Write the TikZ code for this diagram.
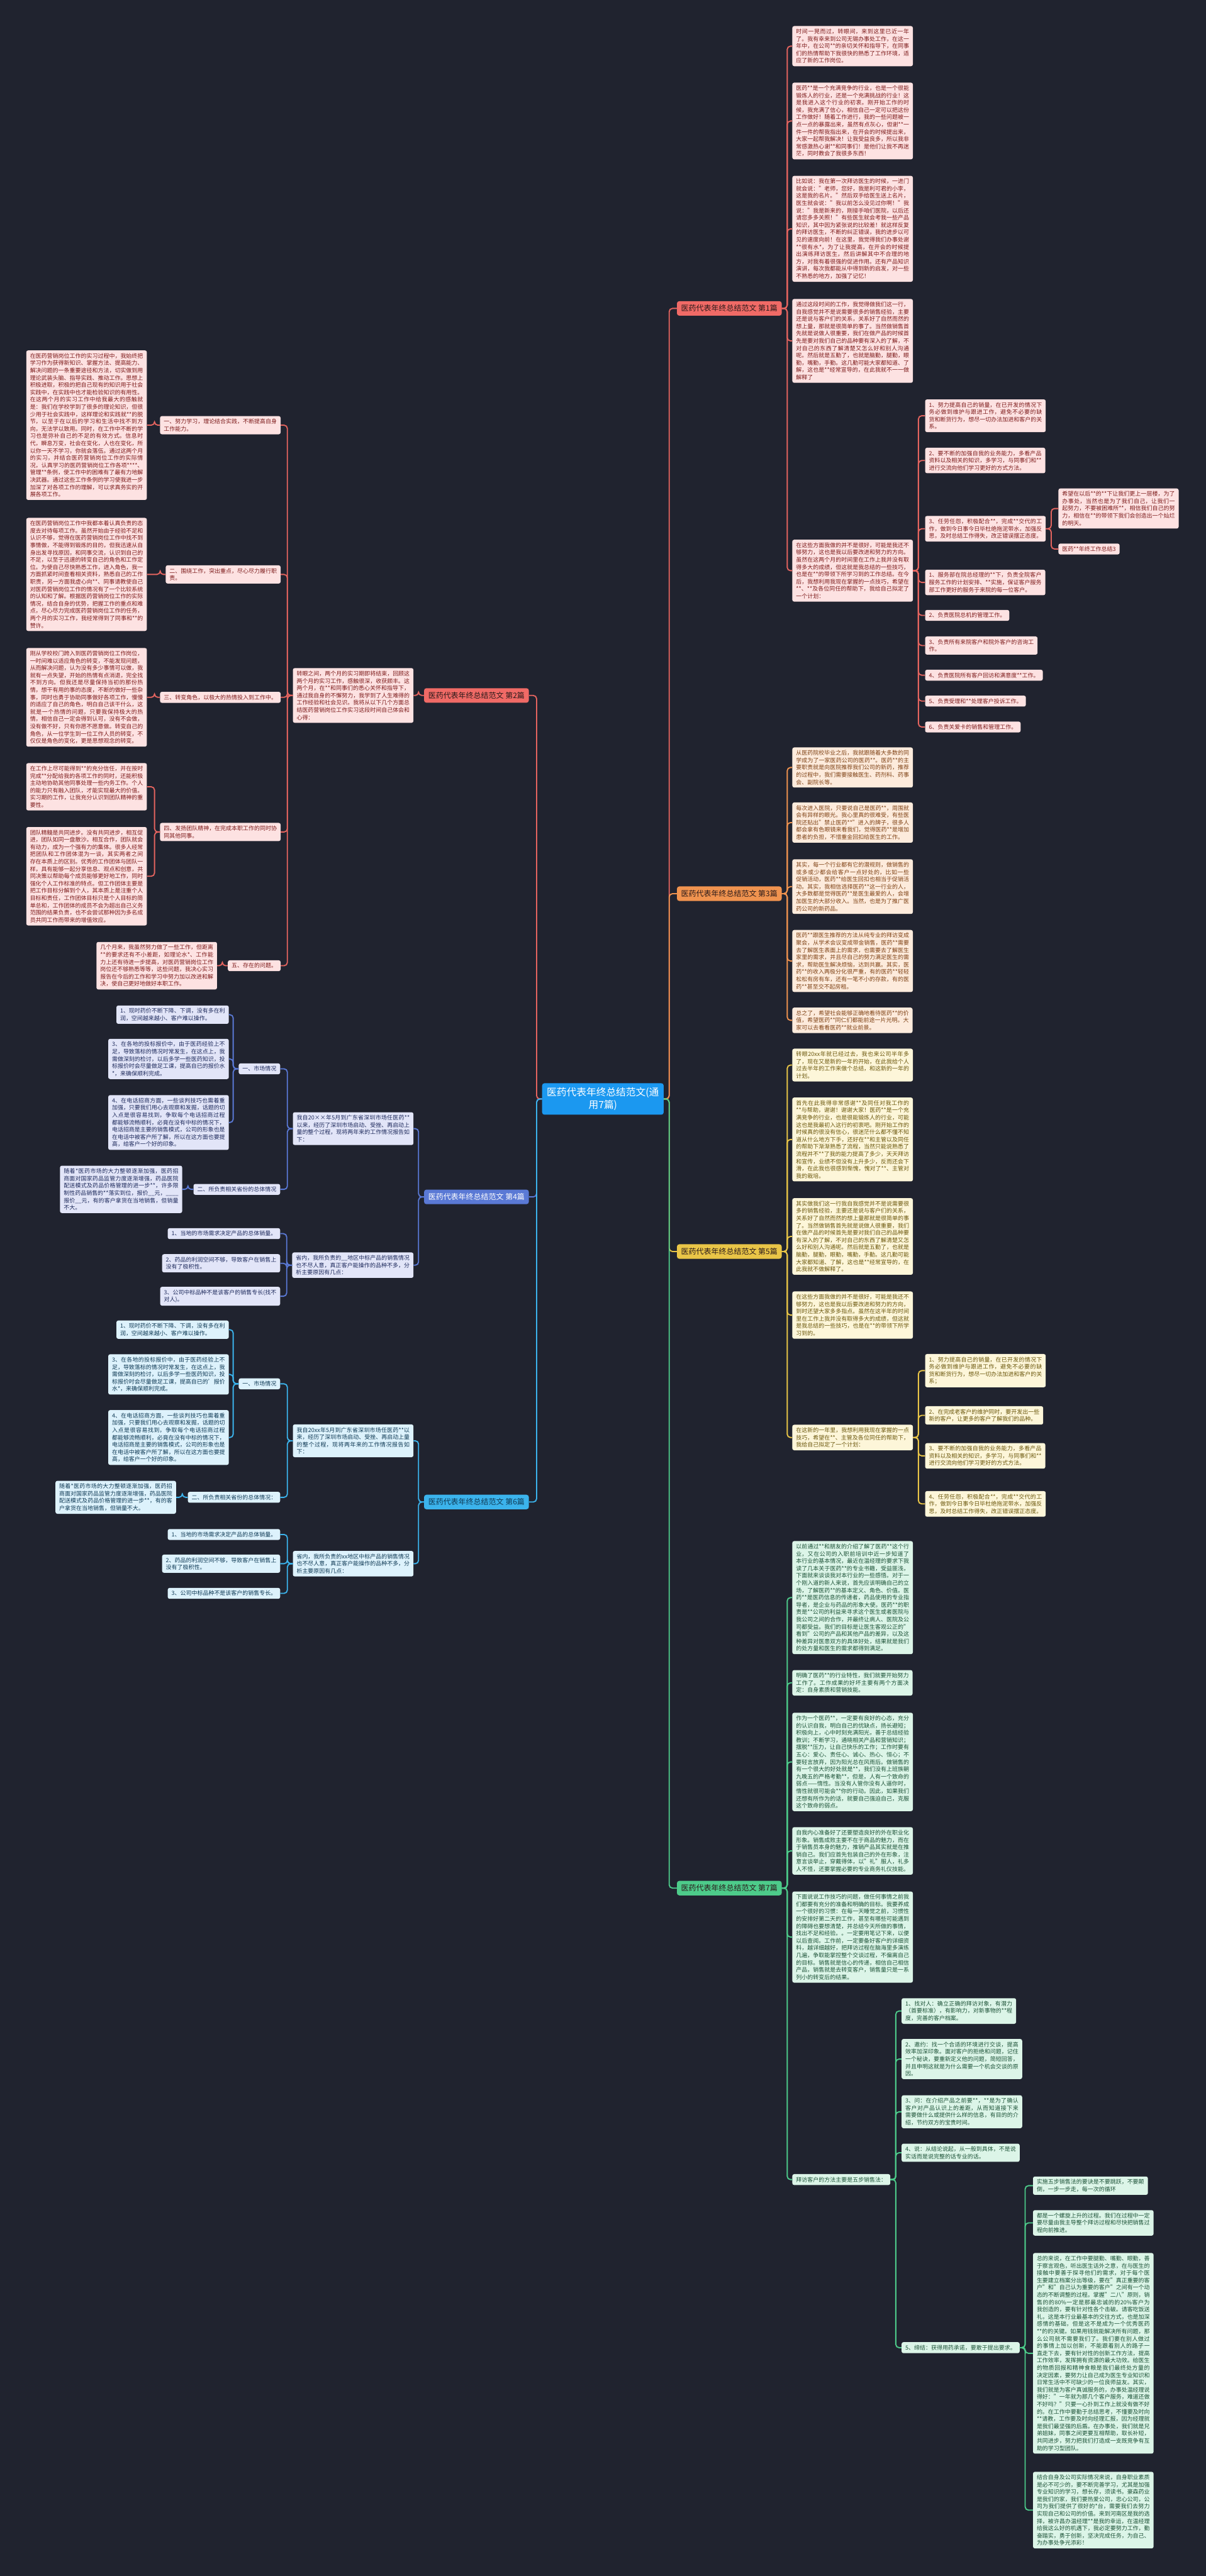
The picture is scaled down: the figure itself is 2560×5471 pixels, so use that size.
\documentclass[tikz,border=0pt]{standalone}
\usepackage{fontspec}
\setmainfont{Noto Sans CJK SC}
\usepackage{varwidth}
\XeTeXlinebreaklocale "zh"
\XeTeXlinebreakskip = 0pt plus 1pt
\setlength{\parindent}{0pt}

\definecolor{bgc}{HTML}{20232F}
\definecolor{ctrc}{HTML}{1B98F0}
\definecolor{rl}{HTML}{E4645F}
\definecolor{rfill}{HTML}{FDE2E2}
\definecolor{rtext}{HTML}{7E1C1C}
\definecolor{rlab}{HTML}{F06A66}
\definecolor{ol}{HTML}{F0934F}
\definecolor{ofill}{HTML}{FDEBDC}
\definecolor{otext}{HTML}{7F4215}
\definecolor{yl}{HTML}{E9C547}
\definecolor{yfill}{HTML}{FDF6D9}
\definecolor{ytext}{HTML}{6B570C}
\definecolor{gl}{HTML}{4DCB8A}
\definecolor{gfill}{HTML}{DCF5E8}
\definecolor{gtext}{HTML}{1C5237}
\definecolor{bl}{HTML}{5A79D5}
\definecolor{bfill}{HTML}{E2E5F8}
\definecolor{btext}{HTML}{1E2A5C}
\definecolor{cl}{HTML}{3BB3EC}
\definecolor{cfill}{HTML}{DDF2FC}
\definecolor{ctext}{HTML}{0F3A55}
\definecolor{dark}{HTML}{2A1A1A}

\begin{document}
\begin{tikzpicture}[x=1pt,y=-1pt,
  box/.style={anchor=west,rounded corners=4pt,inner xsep=8pt,inner ysep=6pt,
    font=\fontsize{12}{15.5}\selectfont,
    execute at begin node={\begin{varwidth}{244pt}},
    execute at end node={\end{varwidth}}},
  lft/.style={anchor=east},
  lab/.style={anchor=west,rounded corners=5pt,inner xsep=9pt,inner ysep=8pt,font=\fontsize{16}{19}\selectfont},
  rbox/.style={box,fill=rfill,text=rtext},
  obox/.style={box,fill=ofill,text=otext},
  ybox/.style={box,fill=yfill,text=ytext},
  gbox/.style={box,fill=gfill,text=gtext},
  bbox/.style={box,lft,fill=bfill,text=btext},
  cbox/.style={box,lft,fill=cfill,text=ctext},
  rline/.style={draw=rl,line width=2.5pt},
  oline/.style={draw=ol,line width=2.5pt},
  yline/.style={draw=yl,line width=2.5pt},
  gline/.style={draw=gl,line width=2.5pt},
  bline/.style={draw=bl,line width=2.5pt},
  cline/.style={draw=cl,line width=2.5pt},
  rt/.style={rounded corners=7pt,to path={-- ++(11.5pt,0) |- (\tikztotarget)}},
  lt/.style={rounded corners=7pt,to path={-- ++(-11.5pt,0) |- (\tikztotarget)}}]

\path[use as bounding box,fill=bgc] (0,0) rectangle (2560,5471);

% centre
\node[fill=ctrc,text=white,rounded corners=5pt,inner xsep=10pt,inner ysep=9pt,align=center,
  font=\fontsize{21}{27}\selectfont] (c) at (1280,2334) {医药代表年终总结范文(通\\用7篇)};

% ---- 第1篇
\node[lab,fill=rlab,text=dark] (b1) at (1437,655) {医药代表年终总结范文 第1篇};
\node[rbox] (b1a) at (1682,98) {时间一晃而过，转眼间，来到这里已近一年了。我有幸来到公司无锡办事处工作，在这一年中，在公司**的亲切关怀和指导下，在同事们的热情帮助下我很快的熟悉了工作环境，适应了新的工作岗位。};
\node[rbox] (b1b) at (1682,257) {医药**是一个充满竞争的行业，也是一个很能锻炼人的行业，还是一个充满挑战的行业！这是我进入这个行业的初衷。刚开始工作的时候，我充满了信心，相信自己一定可以把这份工作做好！随着工作进行，我的一些问题被一点一点的暴露出来，虽然有点灰心，但谢**一件一件的帮我指出来，在开会的时候提出来，大家一起帮我解决！让我受益良多，所以我非常感激热心谢**和同事们！是他们让我不再迷茫，同时教会了我很多东西！};
\node[rbox] (b1c) at (1682,486) {比如说：我在第一次拜访医生的时候，一进门就会说："老师，您好，我是利可君的小李，这是我的名片。"然后双手给医生送上名片，医生就会说："我以前怎么没见过你啊！"我说："我是新来的，刚接手咱们医院，以后还请您多多关照！"有些医生就会考我一些产品知识，其中因为紧张说的比较差！就这样反复的拜访医生，不断的纠正错误，我的进步以可见的速度向前！在这里，我觉得我们办事处谢**很有水*，为了让我提高，在开会的时候提出演练拜访医生，然后讲解其中不合理的地方，对我有着很强的促进作用。还有产品知识演讲，每次我都能从中得到新的启发，对一些不熟悉的地方，加强了记忆！};
\node[rbox] (b1d) at (1682,724) {通过这段时间的工作，我觉得做我们这一行，自我感觉并不是说需要很多的销售经验，主要还是说与客户们的关系，关系好了自然而然的想上量，那就是很简单的事了。当然做销售首先就是说做人很重要，我们在做产品的时候首先是要对我们自己的品种要有深入的了解，不对自己的东西了解清楚又怎么好和别人沟通呢。然后就是五勤了，也就是脑勤，腿勤，眼勤，嘴勤，手勤。这几勤可能大家都知道、了解，这也是**经常宣导的，在此我就不一一做解释了};
\node[rbox] (b1e) at (1682,1212) {在这些方面我做的并不是很好，可能是我还不够努力，这也是我以后要改进和努力的方向。虽然在这两个月的时间里在工作上我并没有取得多大的成绩，但这就是我总结的一些技巧，也是在**的带领下所学习到的工作总结。在今后，我想利用我现在掌握的一点技巧，希望在**、**及各位同任的帮助下，我给自己拟定了一个计划：};
\node[rbox] (b1e1) at (1964,883) {1、努力提高自己的销量，在已开发的情况下务必做到维护与跟进工作，避免不必要的缺货和断货行为，想尽一切办法加进和客户的关系。};
\node[rbox] (b1e2) at (1964,978) {2、要不断的加强自我的业务能力，多看产品资料以及相关的知识，多学习，与同事们和**进行交流向他们学习更好的方式方法。};
\node[rbox] (b1e3) at (1964,1123) {3、任劳任怨，积极配合**，完成**交代的工作，做到今日事今日毕杜绝拖泥带水，加强反思，及时总结工作得失，改正错误摆正态度。};
\node[rbox] (b1e4) at (1964,1237) {1、服务部在院总经理的**下，负责全院客户服务工作的计划安排、**实施，保证客户服务部工作更好的服务于来院的每一位客户。};
\node[rbox] (b1e5) at (1964,1307) {2、负责医院总机的管理工作。};
\node[rbox] (b1e6) at (1964,1371) {3、负责所有来院客户和院外客户的咨询工作。};
\node[rbox] (b1e7) at (1964,1434) {4、负责医院所有客户回访和满意度**工作。};
\node[rbox] (b1e8) at (1964,1489) {5、负责受理和**处理客户投诉工作。};
\node[rbox] (b1e9) at (1964,1544) {6、负责关爱卡的销售和管理工作。};
\node[rbox] (b1e3a) at (2247,1080) {希望在以后**的**下让我们更上一层楼，为了办事处，当然也是为了我们自己，让我们一起努力，不要被困难所**，相信我们自己的努力，相信在**的带领下我们会创造出一个灿烂的明天。};
\node[rbox] (b1e3b) at (2247,1166) {医药**年终工作总结3};

% ---- 第3篇
\node[lab,fill=ol,text=dark] (b3) at (1437,1898) {医药代表年终总结范文 第3篇};
\node[obox] (b3a) at (1682,1630) {从医药院校毕业之后，我就跟随着大多数的同学成为了一家医药公司的医药**。医药**的主要职责就是向医院推荐我们公司的新药，推荐的过程中，我们需要接触医生、药剂科、药事会、副院长等。};
\node[obox] (b3b) at (1682,1747) {每次进入医院，只要说自己是医药**，周围就会有异样的眼光。我心里真的很难受，有些医院还贴出"禁止医药**"进入的牌子，很多人都会拿有色眼镜来看我们，觉得医药**是增加患者的负担，不惜重金回扣给医生的工作。};
\node[obox] (b3c) at (1682,1883) {其实，每一个行业都有它的潜规则，做销售的或多或少都会给客户一点好处的，比如一些促销活动，医药**给医生回扣也相当于促销活动。其实，我相信选择医药**这一行业的人，大多数都是觉得医药**是医生最爱的人，会增加医生的大部分收入。当然，也是为了推广医药公司的新药品。};
\node[obox] (b3d) at (1682,2041) {医药**跟医生推荐的方法从纯专业的拜访变成聚会，从学术会议变成带金销售，医药**需要去了解医生表面上的需求，也需要去了解医生家里的需求，并且尽自己的努力满足医生的需求，帮助医生解决烦恼，达到共赢。其实，医药**的收入两极分化很严重，有的医药**轻轻松松有房有车，还有一笔不小的存款，有的医药**甚至交不起房租。};
\node[obox] (b3e) at (1682,2167) {总之了，希望社会能够正确地看待医药**的价值，希望医药**同仁们都能前途一片光明。大家可以去看看医药**就业前景。};

% ---- 第5篇
\node[lab,fill=yl,text=dark] (b5) at (1437,2658) {医药代表年终总结范文 第5篇};
\node[ybox] (b5a) at (1682,2262) {转眼20xx年就已经过去，我也来公司半年多了，现在又是新的一年的开始，在此我给个人过去半年的工作来做个总结，和这新的一年的计划。};
\node[ybox] (b5b) at (1682,2420) {首先在此我得非常感谢**及同任对我工作的**与帮助，谢谢！谢谢大家！医药**是一个充满竞争的行业，也是很能锻炼人的行业，可能这也是我最初入这行的初衷吧。刚开始工作的时候真的很没有信心，很迷茫什么都不懂不知道从什么地方下手，还好在**和主管以及同任的帮助下渐渐熟悉了流程，当然只能说熟悉了流程并不**了我的能力提高了多少，天天拜访和宣传，业绩不但没有上升多少，反而还会下滑，在此我也很感到惭愧，愧对了**、主管对我的栽培。};
\node[ybox] (b5c) at (1682,2626) {其实做我们这一行我自我感觉并不是说需要很多的销售经验，主要还是说与客户们的关系，关系好了自然而然的想上量那就是很简单的事了。当然做销售首先就是说做人很重要，我们在做产品的时候首先是要对我们自己的品种要有深入的了解，不对自己的东西了解清楚又怎么好和别人沟通呢。然后就是五勤了，也就是脑勤，腿勤，眼勤，嘴勤，手勤。这几勤可能大家都知道、了解，这也是**经常宣导的，在此我就不做解释了。};
\node[ybox] (b5d) at (1682,2793) {在这些方面我做的并不是很好，可能是我还不够努力，这也是我以后要改进和努力的方向，到时还望大家多多指点。虽然在这半年的时间里在工作上我并没有取得多大的成绩，但这就是我总结的一些技巧，也是在**的带领下所学习到的。};
\node[ybox] (b5e) at (1682,3053) {在这新的一年里，我想利用我现在掌握的一点技巧，希望在**、主管及各位同任的帮助下，我给自己拟定了一个计划：};
\node[ybox] (b5e1) at (1964,2911) {1、努力提高自己的销量，在已开发的情况下务必做到维护与跟进工作，避免不必要的缺货和断货行为，想尽一切办法加进和客户的关系；};
\node[ybox] (b5e2) at (1964,3006) {2、在完成老客户的维护同时，要开发出一些新的客户，让更多的客户了解我们的品种。};
\node[ybox] (b5e3) at (1964,3092) {3、要不断的加强自我的业务能力，多看产品资料以及相关的知识，多学习，与同事们和**进行交流向他们学习更好的方式方法。};
\node[ybox] (b5e4) at (1964,3194) {4、任劳任怨，积极配合**，完成**交代的工作，做到今日事今日毕杜绝拖泥带水，加强反思，及时总结工作得失，改正错误摆正态度。};

% ---- 第7篇
\node[lab,fill=gl,text=dark] (b7) at (1437,4010) {医药代表年终总结范文 第7篇};
\node[gbox] (b7a) at (1682,3393) {以前通过**和朋友的介绍了解了医药**这个行业，又在公司的入职前培训中近一步知道了本行业的基本情况，最近在温经理的要求下我读了几本关于医药**的专业书籍，受益匪浅，下面就来谈谈我对本行业的一些感悟。对于一个刚入道的新人来说，首先应该明确自己的立场，了解医药**的基本定义、角色、价值。医药**是医药信息的传递者，药品使用的专业指导者，是企业与药品的形象大使。医药**的职责是**公司的利益来寻求这个医生或者医院与我公司之间的合作，并最终让病人、医院及公司都受益。我们的目标是让医生客观公正的"看到"公司的产品和其他产品的差异，以及这种差异对医患双方的具体好处，结果就是我们的处方量和医生的需求都得到满足。};
\node[gbox] (b7b) at (1682,3574) {明确了医药**的行业特性，我们就要开始努力工作了。工作成果的好坏主要有两个方面决定：自身素质和营销技能。};
\node[gbox] (b7c) at (1682,3742) {作为一个医药**，一定要有良好的心态，充分的认识自我，明白自己的优缺点，扬长避短；积极向上，心中时刻充满阳光，善于总结经验教训；不断学习，通晓相关产品和营销知识；摆脱**压力，让自己快乐的工作；工作时要有五心：爱心、责任心、诚心、热心、恒心；不要轻言放弃，因为阳光总在风雨后。做销售的有一个很大的好处就是**，我们没有上班族朝九晚五的严格考勤**，但是，人有一个致命的弱点——惰性。当没有人管你没有人逼你时，惰性就很可能会**你的行动。因此，如果我们还想有所作为的话，就要自己强迫自己，克服这个致命的弱点。};
\node[gbox] (b7d) at (1682,3931) {自我内心准备好了还要塑造良好的外在职业化形象。销售成败主要不在于商品的魅力，而在于销售员本身的魅力，推销产品其实就是在推销自己。我们应首先包装自己的外在形象，注意言谈举止，穿戴得体，以"礼"服人，礼多人不怪，还要掌握必要的专业商务礼仪技能。};
\node[gbox] (b7e) at (1682,4114) {下面说说工作技巧的问题，做任何事情之前我们都要有充分的准备和明确的目标。我要养成一个很好的习惯：在每一天睡觉之前，习惯性的安排好第二天的工作，甚至有哪些可能遇到的障碍也要想清楚，并总结今天所做的事情，找出不足和经验。。一定要用笔记下来，以便以后查阅。工作前，一定要备好客户的详细资料，越详细越好，把拜访过程在脑海里多演练几遍，争取能掌控整个交谈过程，不偏离自己的目标。销售就是信心的传递，相信自己相信产品，销售就是去转变客户，销售量只是一系列小的转变后的结果。};
\node[gbox] (b7f) at (1682,4629) {拜访客户的方法主要是五步销售法：};
\node[gbox] (b7f1) at (1914,4271) {1、找对人：确立正确的拜访对象，有潜力（首要标准），有影响力，对新事物的**程度，完善的客户档案。};
\node[gbox] (b7f2) at (1914,4373) {2、邀约：找一个合适的环境进行交谈，提高效率加深印象。面对客户的拒绝和问题，记住一个秘诀，要重新定义他的问题，简短回答，并且申明这就是为什么需要一个机会交谈的原因。};
\node[gbox] (b7f3) at (1914,4485) {3、问：在介绍产品之前要**，**是为了确认客户对产品认识上的差距，从而知道接下来需要做什么或提供什么样的信息，有目的的介绍，节约双方的宝贵时间。};
\node[gbox] (b7f4) at (1914,4572) {4、说：从结论说起，从一般到具体，不是说实话而是说完整的话专业的话。};
\node[gbox] (b7f5) at (1914,4986) {5、缔结：获得用药承诺，要敢于提出要求。};
\node[gbox] (b7f5a) at (2193,4642) {实施五步销售法的要诀是不要跳跃，不要颠倒，一步一步走，每一次的循环};
\node[gbox] (b7f5b) at (2193,4721) {都是一个螺旋上升的过程。我们在过程中一定要尽量由我主导整个拜访过程和尽快把销售过程向前推进。};
\node[gbox] (b7f5c) at (2193,4998) {总的来说，在工作中要腿勤、嘴勤、眼勤，善于察言观色，听出医生话外之意，在与医生的接触中要善于探寻他们的需求，对于每个医生要建立档案分出等级，要在"真正重要的客户"和"自己认为重要的客户"之间有一个动态的不断调整的过程。掌握"二八"原则，销售的的80\%一定是那最忠诚的的20\%客户为我创造的，要有针对性各个击破。请客吃饭送礼，这是本行业最基本的交往方式，也是加深感情的基础，但是这不是成为一个优秀医药**的的关键。如果用钱就能解决所有问题，那么公司就不需要我们了。我们要在别人做过的事情上加以创新，不能跟着别人的路子一直走下去，要有针对性的创新工作方法，提高工作效率，发挥拥有资源的最大功效。给医生的物质回报和精神食粮是我们最终处方量的决定因素，要努力让自己成为医生专业知识和日常生活中不可缺少的一位良师益友。其实，我们就是为客户真诚服务的，办事处温经理说得好："一年就为那几个客户服务，难道还做不好吗？"只要一心扑到工作上就没有做不好的。在工作中要勤于总结思考，不懂要及时向**请教，工作要及时向经理汇报，因为经理就是我们最坚强的后盾。在办事处，我们就是兄弟姐妹，同事之间更要互相帮助，取长补短，共同进步，努力把我们打造成一支既竞争有互助的学习型团队。};
\node[gbox] (b7f5d) at (2193,5331) {结合自身及公司实际情况来说，自身职业素质是必不可少的，要不断完善学习，尤其是加强专业知识的学习，想长存，须读书。豪森药业是我们的家，我们要热爱公司，忠心公司，公司为我们提供了很好的*台，需要我们去努力实现自己和公司的价值。来到河南区是我的选择，被许昌办温经理**是我的幸运，在温经理给我这么好的机遇下，我必定要努力工作，勤奋踏实，勇于创新，坚决完成任务，为自己、为办事处争光添彩！};

% ---- 第2篇
\node[lab,lft,fill=rlab,text=dark] (b2) at (1123,1477) {医药代表年终总结范文 第2篇};
\node[rbox,lft] (b2m) at (878,1477) {转眼之间，两个月的实习期即将结束，回顾这两个月的实习工作，感触很深，收获颇丰。这两个月，在**和同事们的悉心关怀和指导下，通过我自身的不懈努力，我学到了人生难得的工作经验和社会见识。我将从以下几个方面总结医药营销岗位工作实习这段时间自己体会和心得：};
\node[rbox,lft] (b2p1) at (596,903) {一、努力学习，理论结合实践，不断提高自身工作能力。};
\node[rbox,lft] (b2p2) at (596,1220) {二、围绕工作，突出重点，尽心尽力履行职责。};
\node[rbox,lft] (b2p3) at (596,1481) {三、转变角色，以极大的热情投入到工作中。};
\node[rbox,lft] (b2p4) at (596,1767) {四、发扬团队精神，在完成本职工作的同时协同其他同事。};
\node[rbox,lft] (b2p5) at (596,2051) {五、存在的问题。};
\node[rbox,lft] (b2t1) at (312,903) {在医药营销岗位工作的实习过程中，我始终把学习作为获得新知识、掌握方法、提高能力、解决问题的一条重要途径和方法，切实做到用理论武装头脑、指导实践、推动工作。思想上积极进取，积极的把自己现有的知识用于社会实践中，在实践中也才能检验知识的有用性。在这两个月的实习工作中给我最大的感触就是：我们在学校学到了很多的理论知识，但很少用于社会实践中，这样理论和实践就**的脱节，以至于在以后的学习和生活中找不到方向，无法学以致用。同时，在工作中不断的学习也是弥补自己的不足的有效方式。信息时代，瞬息万变，社会在变化，人也在变化，所以你一天不学习，你就会落伍。通过这两个月的实习，并结合医药营销岗位工作的实际情况，认真学习的医药营销岗位工作各项****、管理**条例，使工作中的困难有了最有力地解决武器。通过这些工作条例的学习使我进一步加深了对各项工作的理解，可以求真务实的开展各项工作。};
\node[rbox,lft] (b2t2) at (312,1220) {在医药营销岗位工作中我都本着认真负责的态度去对待每项工作。虽然开始由于经验不足和认识不够，觉得在医药营销岗位工作中找不到事情做，不能得到锻炼的目的，但我迅速从自身出发寻找原因，和同事交流，认识到自己的不足，以至于迅速的转变自己的角色和工作定位。为使自己尽快熟悉工作，进入角色，我一方面抓紧时间查看相关资料，熟悉自己的工作职责，另一方面我虚心向**、同事请教使自己对医药营销岗位工作的情况有了一个比较系统的认知和了解。根据医药营销岗位工作的实际情况，结合自身的优势，把握工作的重点和难点，尽心尽力完成医药营销岗位工作的任务，两个月的实习工作，我经常得到了同事和**的赞许。};
\node[rbox,lft] (b2t3) at (312,1481) {刚从学校校门跨入到医药营销岗位工作岗位，一时间难以适应角色的转变，不能发现问题，从而解决问题，认为没有多少事情可以做，我就有一点失望，开始的热情有点消退，完全找不到方向。但我还是尽量保持当初的那份热情，想干有用的事的态度，不断的做好一些杂事，同时也勇于协助同事做好各项工作，慢慢的适应了自己的角色，明白自己该干什么，这就是一个热情的问题，只要我保持极大的热情，相信自己一定会得到认可，没有不会做，没有做不好，只有你愿不愿意做。转变自己的角色，从一位学生到一位工作人员的转变，不仅仅是角色的变化，更是思想观念的转变。};
\node[rbox,lft] (b2t4a) at (312,1671) {在工作上尽可能得到**的充分信任，并在按时完成**分配给我的各项工作的同时，还能积极主动地协助其他同事处理一些内务工作。个人的能力只有融入团队，才能实现最大的价值。实习期的工作，让我充分认识到团队精神的重要性。};
\node[rbox,lft] (b2t4b) at (312,1861) {团队精髓是共同进步。没有共同进步，相互促进，团队如同一盘散沙。相互合作，团队就会有动力，成为一个强有力的集体。很多人经常把团队和工作团体混为一谈，其实两者之间存在本质上的区别。优秀的工作团体与团队一样，具有能够一起分享信息、观点和创意，共同决策以帮助每个成员能够更好地工作，同时强化个人工作标准的特点。但工作团体主要是把工作目标分解到个人，其本质上是注重个人目标和责任，工作团体目标只是个人目标的简单总和，工作团体的成员不会为超出自己义务范围的结果负责，也不会尝试那种因为多名成员共同工作而带来的增值效应。};
\node[rbox,lft] (b2t5) at (461,2051) {几个月来，我虽然努力做了一些工作，但距离**的要求还有不小差距，如理论水*、工作能力上还有待进一步提高，对医药营销岗位工作岗位还不够熟悉等等，这些问题，我决心实习报告在今后的工作和学习中努力加以改进和解决，使自己更好地做好本职工作。};

% ---- 第4篇
\node[lab,lft,fill=bl,text=white] (b4) at (1123,2542) {医药代表年终总结范文 第4篇};
\node[bbox] (b4a) at (878,2397) {我自20××年5月到广东省深圳市场任医药**以来，经历了深圳市场启动、受挫、再启动上量的整个过程，现将两年来的工作情况报告如下：};
\node[bbox] (b4b) at (878,2687) {省内，我所负责的\_\_地区中标产品的销售情况也不尽人意，真正客户能操作的品种不多，分析主要原因有几点：};
\node[bbox] (b4a1) at (595,2270) {一、市场情况};
\node[bbox] (b4a2) at (595,2526) {二、所负责相关省份的总体情况};
\node[bbox] (b4a1a) at (486,2155) {1、现时药价不断下降、下调，没有多在利润，空间越来越小、客户难以操作。};
\node[bbox] (b4a1b) at (486,2249) {3、在各地的投标报价中，由于医药经验上不足，导致落标的情况时常发生，在这点上，我需做深刻的检讨，以后多学一些医药知识，投标报价时会尽量做足工课，提高自已的报价水*，来确保顺利完成。};
\node[bbox] (b4a1c) at (486,2384) {4、在电话招商方面，一些谈判技巧也需着重加强，只要我们用心去观察和发掘，话题的切入点是很容易找到，争取每个电话招商过程都能够流畅顺利，必竟在没有中标的情况下，电话招商是主要的销售模式，公司的形象也是在电话中被客户所了解，所以在这方面也要提高，给客户一个好的印象。};
\node[bbox] (b4a2a) at (387,2526) {随着*医药市场的大力整顿逐渐加强，医药招商面对国家药品监管力度逐渐增强，药品医院配送模式及药品价格管理的进一步**，许多限制性药品销售的**落实到位，报价\_\_元，\_\_\_\_报价\_\_元，有的客户拿货在当地销售，但销量不大。};
\node[bbox] (b4b1) at (595,2620) {1、当地的市场需求决定产品的总体销量。};
\node[bbox] (b4b2) at (595,2683) {2、药品的利润空间不够，导致客户在销售上没有了极积性。};
\node[bbox] (b4b3) at (595,2753) {3、公司中标品种不是该客户的销售专长(找不对人)。};

% ---- 第6篇
\node[lab,lft,fill=cl,text=ctext] (b6) at (1123,3190) {医药代表年终总结范文 第6篇};
\node[cbox] (b6a) at (878,3060) {我自20xx年5月到广东省深圳市场任医药**以来，经历了深圳市场启动、受挫、再启动上量的整个过程，现将两年来的工作情况报告如下：};
\node[cbox] (b6b) at (878,3321) {省内，我所负责的xx地区中标产品的销售情况也不尽人意，真正客户能操作的品种不多，分析主要原因有几点：};
\node[cbox] (b6a1) at (595,2939) {一、市场情况};
\node[cbox] (b6a2) at (595,3180) {二、所负责相关省份的总体情况：};
\node[cbox] (b6a1a) at (486,2824) {1、现时药价不断下降、下调，没有多在利润，空间越来越小、客户难以操作。};
\node[cbox] (b6a1b) at (486,2919) {3、在各地的投标报价中，由于医药经验上不足，导致落标的情况时常发生，在这点上，我需做深刻的检讨，以后多学一些医药知识，投标报价时会尽量做足工课，提高自已的'报价水*，来确保顺利完成。};
\node[cbox] (b6a1c) at (486,3053) {4、在电话招商方面，一些谈判技巧也需着重加强，只要我们用心去观察和发掘，话题的切入点是很容易找到，争取每个电话招商过程都能够流畅顺利，必竟在没有中标的情况下，电话招商是主要的销售模式，公司的形象也是在电话中被客户所了解，所以在这方面也要提高，给客户一个好的印象。};
\node[cbox] (b6a2a) at (374,3180) {随着*医药市场的大力整顿逐渐加强，医药招商面对国家药品监管力度逐渐增强，药品医院配送模式及药品价格管理的进一步**，有的客户拿货在当地销售，但销量不大。};
\node[cbox] (b6b1) at (595,3259) {1、当地的市场需求决定产品的总体销量。};
\node[cbox] (b6b2) at (595,3321) {2、药品的利润空间不够，导致客户在销售上没有了极积性。};
\node[cbox] (b6b3) at (595,3384) {3、公司中标品种不是该客户的销售专长。};

% connectors
\path (c.east) edge[rt,rline] (b1.west) edge[rt,oline] (b3.west)
  edge[rt,yline] (b5.west) edge[rt,gline] (b7.west);
\path (c.west) edge[lt,rline] (b2.east) edge[lt,bline] (b4.east) edge[lt,cline] (b6.east);
\path[rline] (b1.east) edge[rt] (b1a.west) edge[rt] (b1b.west) edge[rt] (b1c.west)
  edge[rt] (b1d.west) edge[rt] (b1e.west);
\path[rline] (b1e.east) edge[rt] (b1e1.west) edge[rt] (b1e2.west) edge[rt] (b1e3.west)
  edge[rt] (b1e4.west) edge[rt] (b1e5.west) edge[rt] (b1e6.west) edge[rt] (b1e7.west)
  edge[rt] (b1e8.west) edge[rt] (b1e9.west);
\path[rline] (b1e3.east) edge[rt] (b1e3a.west) edge[rt] (b1e3b.west);
\path[oline] (b3.east) edge[rt] (b3a.west) edge[rt] (b3b.west) edge[rt] (b3c.west)
  edge[rt] (b3d.west) edge[rt] (b3e.west);
\path[yline] (b5.east) edge[rt] (b5a.west) edge[rt] (b5b.west) edge[rt] (b5c.west)
  edge[rt] (b5d.west) edge[rt] (b5e.west);
\path[yline] (b5e.east) edge[rt] (b5e1.west) edge[rt] (b5e2.west) edge[rt] (b5e3.west)
  edge[rt] (b5e4.west);
\path[gline] (b7.east) edge[rt] (b7a.west) edge[rt] (b7b.west) edge[rt] (b7c.west)
  edge[rt] (b7d.west) edge[rt] (b7e.west) edge[rt] (b7f.west);
\path[gline] (b7f.east) edge[rt] (b7f1.west) edge[rt] (b7f2.west) edge[rt] (b7f3.west)
  edge[rt] (b7f4.west) edge[rt] (b7f5.west);
\path[gline] (b7f5.east) edge[rt] (b7f5a.west) edge[rt] (b7f5b.west) edge[rt] (b7f5c.west)
  edge[rt] (b7f5d.west);
\path[rline] (b2.west) edge[lt] (b2m.east);
\path[rline] (b2m.west) edge[lt] (b2p1.east) edge[lt] (b2p2.east) edge[lt] (b2p3.east)
  edge[lt] (b2p4.east) edge[lt] (b2p5.east);
\path[rline] (b2p1.west) edge[lt] (b2t1.east);
\path[rline] (b2p2.west) edge[lt] (b2t2.east);
\path[rline] (b2p3.west) edge[lt] (b2t3.east);
\path[rline] (b2p4.west) edge[lt] (b2t4a.east) edge[lt] (b2t4b.east);
\path[rline] (b2p5.west) edge[lt] (b2t5.east);
\path[bline] (b4.west) edge[lt] (b4a.east) edge[lt] (b4b.east);
\path[bline] (b4a.west) edge[lt] (b4a1.east) edge[lt] (b4a2.east);
\path[bline] (b4a1.west) edge[lt] (b4a1a.east) edge[lt] (b4a1b.east) edge[lt] (b4a1c.east);
\path[bline] (b4a2.west) edge[lt] (b4a2a.east);
\path[bline] (b4b.west) edge[lt] (b4b1.east) edge[lt] (b4b2.east) edge[lt] (b4b3.east);
\path[cline] (b6.west) edge[lt] (b6a.east) edge[lt] (b6b.east);
\path[cline] (b6a.west) edge[lt] (b6a1.east) edge[lt] (b6a2.east);
\path[cline] (b6a1.west) edge[lt] (b6a1a.east) edge[lt] (b6a1b.east) edge[lt] (b6a1c.east);
\path[cline] (b6a2.west) edge[lt] (b6a2a.east);
\path[cline] (b6b.west) edge[lt] (b6b1.east) edge[lt] (b6b2.east) edge[lt] (b6b3.east);
\end{tikzpicture}
\end{document}
